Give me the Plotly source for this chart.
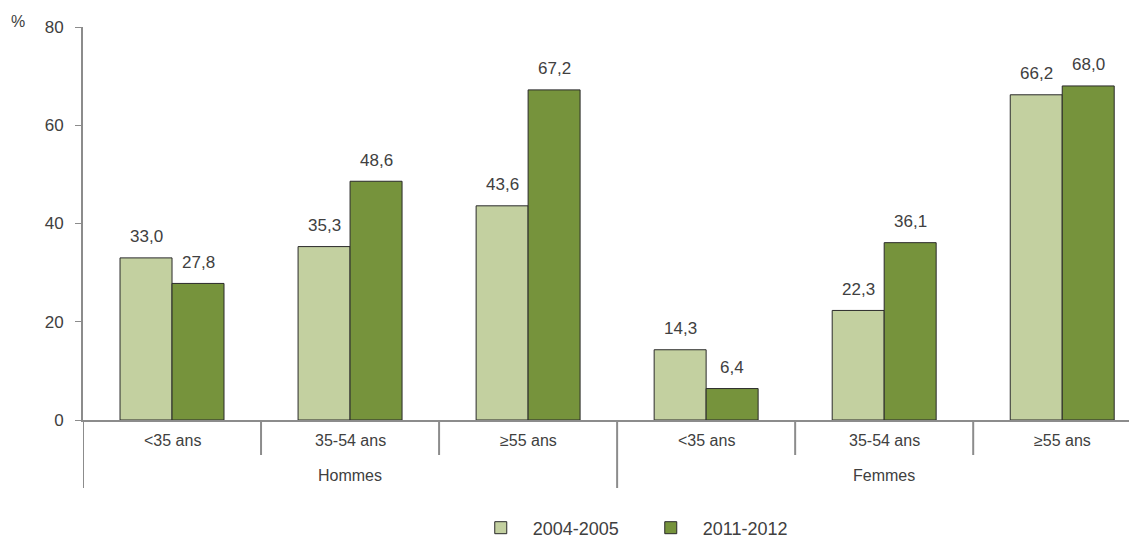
import plotly.graph_objects as go

# Données
sexes = ["Hommes", "Femmes"]
ages = ["<35 ans", "35-54 ans", "≥55 ans", "<35 ans", "35-54 ans", "≥55 ans"]
v_2004 = [33.0, 35.3, 43.6, 14.3, 22.3, 66.2]
v_2011 = [27.8, 48.6, 67.2, 6.4, 36.1, 68.0]
y_ticks = [0, 20, 40, 60, 80]

txt = "#404040"
grey = "#8c8c8c"
fnt = "Liberation Sans, Arial, sans-serif"
font = dict(family=fnt, size=16, color=txt)
pos = list(range(len(ages)))
w = 0.292  # largeur d'une barre (unités de catégorie)


def lab(vals):
    return [f"{v:.1f}".replace(".", ",") for v in vals]


fig = go.Figure()
series = [("2004-2005", v_2004, "#c3d0a0", -w), ("2011-2012", v_2011, "#76933c", 0.0)]
annotations = []
for name, vals, col, off in series:
    fig.add_trace(go.Bar(
        x=pos, y=vals, name=name, width=w, offset=off,
        marker=dict(color=col, line=dict(color="#2a2a2a", width=1)),
    ))
    # étiquettes de valeur au-dessus des barres
    for p, v, t in zip(pos, vals, lab(vals)):
        annotations.append(dict(text=t, x=p + off + w / 2, y=v, xref="x", yref="y",
                                yshift=21, xanchor="center", yanchor="middle",
                                showarrow=False,
                                font=dict(family=fnt, size=17, color=txt)))

h = 393.0  # hauteur de la zone de tracé en px
shapes = []
# petites séparations entre classes d'âge
for b in [0.5, 1.5, 3.5, 4.5]:
    shapes.append(dict(type="line", xref="x", yref="paper", x0=b, x1=b,
                       y0=0, y1=-35 / h, line=dict(color=grey, width=2)))
# grandes séparations entre sexes
for b in [-0.5, 2.5]:
    shapes.append(dict(type="line", xref="x", yref="paper", x0=b, x1=b,
                       y0=0, y1=-68 / h, line=dict(color=grey, width=2)))

annotations.append(dict(text="%", xref="paper", yref="paper", x=-0.062, y=1 + 5 / h,
                        xanchor="center", yanchor="middle", showarrow=False,
                        font=dict(family=fnt, size=16, color=txt)))
for i, a in enumerate(ages):
    annotations.append(dict(text=a, xref="x", yref="paper", x=i, y=-20 / h,
                            xanchor="center", yanchor="middle", showarrow=False,
                            font=font))
for j, s in enumerate(sexes):
    annotations.append(dict(text=s, xref="x", yref="paper", x=3 * j + 1, y=-55 / h,
                            xanchor="center", yanchor="middle", showarrow=False,
                            font=font))

# la page HTML a une marge de 8 px : on la compense
fig.update_layout(
    width=1129, height=531,
    margin=dict(l=75, r=0, t=19, b=119, autoexpand=False),
    plot_bgcolor="white", paper_bgcolor="white",
    font=font,
    barmode="overlay",
    showlegend=True,
    legend=dict(orientation="h", x=0.366, xanchor="left", y=-108 / h, yanchor="middle",
                font=dict(family=fnt, size=18, color=txt),
                itemwidth=54, entrywidth=101),
    xaxis=dict(
        range=[-0.5, 5.42], showticklabels=False, ticks="",
        showline=True, linecolor=grey, linewidth=2,
        showgrid=False, zeroline=False, automargin=False,
    ),
    yaxis=dict(
        range=[0, 80], tickvals=y_ticks, showgrid=False, zeroline=False,
        showline=True, linecolor=grey, linewidth=2,
        ticks="outside", ticklen=6, tickcolor=grey, ticklabelstandoff=8,
        tickfont=dict(family=fnt, size=17, color=txt), automargin=False,
    ),
    shapes=shapes,
    annotations=annotations,
)

fig.write_html("out.html")
